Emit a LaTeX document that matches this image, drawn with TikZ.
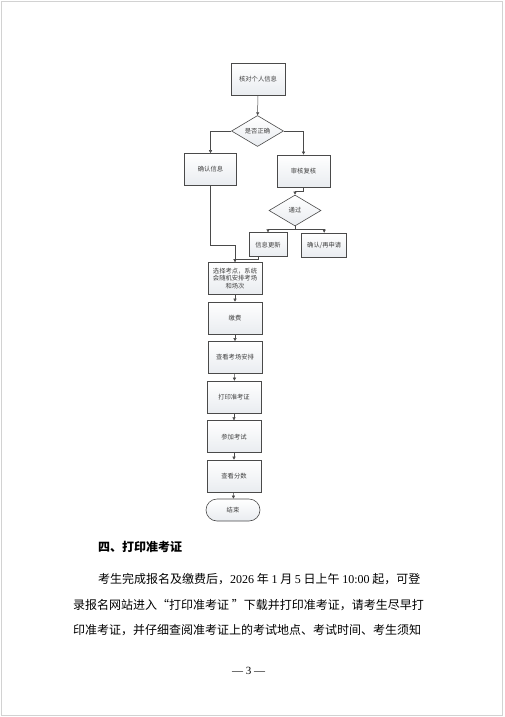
\documentclass[tikz,border=0pt]{standalone}
\usepackage{fontspec}
\setmainfont{Liberation Serif}
\newfontfamily\cjk{Noto Sans CJK SC}
\usepackage{xcolor}
\usetikzlibrary{positioning,arrows.meta,shapes.geometric}
\definecolor{cLine}{HTML}{4A4A4A}
\definecolor{cFill}{HTML}{E9ECF0}
\newcommand{\dg}[1]{{\rmfamily #1}}

\begin{document}
\begin{tikzpicture}[
  x=1pt, y=-1pt,
  font=\cjk\fontsize{6.3}{7.6}\selectfont, >={Triangle[length=3pt,width=3pt]},
  blk/.style={draw=cLine, line width=0.6pt, top color=white, bottom color=cFill,
              minimum width=54pt, minimum height=32pt, inner sep=1pt,
              align=center, text=black!75},
  small/.style={blk, minimum height=24pt},
  dec/.style={diamond, draw=cLine, line width=0.6pt, top color=white,
              bottom color=cFill, minimum width=52pt, minimum height=31pt,
              inner sep=0pt, text=black!75},
  term/.style={blk, rounded corners=11pt, minimum height=22pt},
  link/.style={->, draw=cLine, line width=0.5pt},
  para/.style={font=\cjk\fontsize{12}{14}\selectfont, anchor=west, inner sep=0pt},
]
  \useasboundingbox (0,0) rectangle (504,717);
  \draw[gray!35, line width=0.8pt] (1.5,1.5) rectangle (502,715.5);
  % checking
  \node[blk] (check)  at (258,79)    {核对个人信息};
  \node[dec] (ok)     at (257.5,131) {是否正确};
  \node[blk, minimum width=52pt] (confirm) at (210.5,169.5) {确认信息};
  \node[blk, minimum width=53pt] (review)  at (303.5,171)   {审核复核};
  \node[dec] (pass)   at (295,210.5) {通过};
  \node[small, minimum width=38pt] (update)  at (268,244.7) {信息更新};
  \node[small, minimum width=45pt] (reapply) at (324.2,245) {确认/再申请};
  % main column
  \node[blk] (select)  at (235,278.3) {选择考点，系统\\会随机安排考场\\和场次};
  \node[blk] (pay)     at (235,318)   {缴费};
  \node[blk] (arrange) at (235,357.5) {查看考场安排};
  \node[blk] (print)   at (234,397)   {打印准考证};
  \node[blk] (exam)    at (234,436.7) {参加考试};
  \node[blk] (score)   at (234,476)   {查看分数};
  \node[term] (finish) at (233,510)   {结束};
  % branches
  \draw[link] (check) -- (ok);
  \draw[link] (ok.west) -| (confirm.north);
  \draw[link] (ok.east) -| (review.north);
  \draw[link] (review.south) -- ++(0,3.5) -| (pass.north);
  \draw[link] (pass.south) -- ++(0,2.5) -| (update.north);
  \draw[link] (pass.south) -- ++(0,2.5) -| (reapply.north);
  \draw[link] (confirm.south) -- ++(0,59.5) -| (select.north);
  \draw[link] ([xshift=-10pt]update.south) -- ++(0,2.5) -| (select.north);
  % column flow
  \draw[link] (select) -- (pay);
  \draw[link] (pay) -- (arrange);
  \draw[link] (arrange) -- (print);
  \draw[link] (print) -- (exam);
  \draw[link] (exam) -- (score);
  \draw[link] (score) -- (finish);
  % text below
  \node[para, font=\cjk\bfseries\fontsize{12}{14}\selectfont] (sec) at (98,546.5) {四、打印准考证};
  \node[para] (l1) at (98,579) {考生完成报名及缴费后，\dg{2026} 年 \dg{1} 月 \dg{5} 日上午 \dg{10:00} 起，可登};
  \node[para] (l2) at (73,605.5) {录报名网站进入“打印准考证 ”下载并打印准考证，请考生尽早打};
  \node[para] (l3) at (73,630.5) {印准考证，并仔细查阅准考证上的考试地点、考试时间、考生须知};
  \node[font=\rmfamily\fontsize{11}{13}\selectfont] (pg) at (248.5,671) {— 3 —};
\end{tikzpicture}
\end{document}
